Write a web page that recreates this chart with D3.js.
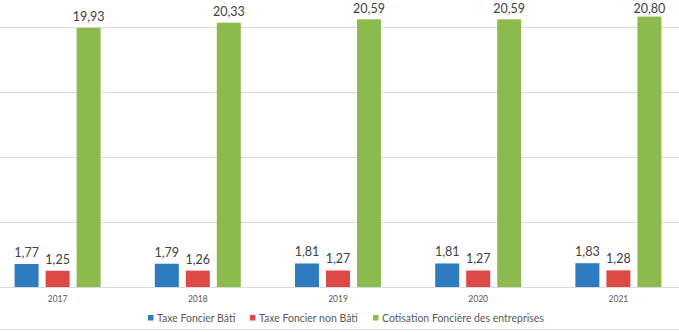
<!DOCTYPE html>
<html><head><meta charset="utf-8">
<script src="https://cdn.jsdelivr.net/npm/d3@7"></script>
<style>html,body{margin:0;padding:0;background:#fff;}svg{display:block;}</style>
</head><body>
<svg id="c" width="679" height="332"></svg>
<script>
const years = ["2017","2018","2019","2020","2021"];
const seriesNames = ["Taxe Foncier Bâti","Taxe Foncier non Bâti","Cotisation Foncière des entreprises"];
const tfb = [1.77,1.79,1.81,1.81,1.83];
const tfnb = [1.25,1.26,1.27,1.27,1.28];
const cfe = [19.93,20.33,20.59,20.59,20.80];
const gridTicks = [0,5,10,15,20,25];
const colors = ["#2e7bbf","#dd4a46","#8cba4c"];

const seriesVals = [tfb, tfnb, cfe];
const svg = d3.select("#c");
const font = "Lato, 'Liberation Sans', sans-serif";

const x0 = d3.scaleBand().domain(years).range([-12.5, 688.5]);
const x1 = d3.scaleBand().domain(seriesNames).range([-43, 43]).paddingInner(0.226).paddingOuter(0);
const y = d3.scaleLinear().domain([0,20]).range([287,27]);

// gridlines
svg.append("g").selectAll("line").data(gridTicks).join("line")
  .attr("x1",0).attr("x2",679)
  .attr("y1",d=>y(d)+0.5).attr("y2",d=>y(d)+0.5)
  .attr("stroke","#d9d9d9").attr("stroke-width",1);

// bars
const groups = svg.append("g").selectAll("g").data(years).join("g")
  .attr("transform",d=>`translate(${x0(d)+x0.bandwidth()/2},0)`);
groups.each(function(yr,i){
  const g = d3.select(this);
  seriesNames.forEach((s,k)=>{
    const v = seriesVals[k][i];
    g.append("rect").attr("x",x1(s)).attr("width",x1.bandwidth())
      .attr("y",y(v)).attr("height",y(0)-y(v)).attr("fill",colors[k]);
    g.append("text").attr("x",x1(s)+x1.bandwidth()/2).attr("y",Math.max(y(v)-7, 12.5))
      .attr("text-anchor","middle").attr("font-family",font).attr("font-size",12.5)
      .attr("fill","#404040").text(v.toFixed(2).replace(".",","));
  });
});

// x axis labels
svg.append("g").selectAll("text").data(years).join("text")
  .attr("x",d=>x0(d)+x0.bandwidth()/2).attr("y",302)
  .attr("text-anchor","middle").attr("font-family",font).attr("font-size",8.5)
  .attr("fill","#595959").text(d=>d);

// legend
const legX = [148, 250, 373];
const leg = svg.append("g");
seriesNames.forEach((s,k)=>{
  leg.append("rect").attr("x",legX[k]).attr("y",315).attr("width",5.5).attr("height",5.5).attr("fill",colors[k]);
  leg.append("text").attr("x",legX[k]+9).attr("y",322).attr("font-family",font).attr("font-size",10.5)
    .attr("fill","#595959").text(s);
});

// bottom border
svg.append("line").attr("x1",0).attr("x2",679).attr("y1",329.5).attr("y2",329.5).attr("stroke","#d9d9d9");
</script>
</body></html>
